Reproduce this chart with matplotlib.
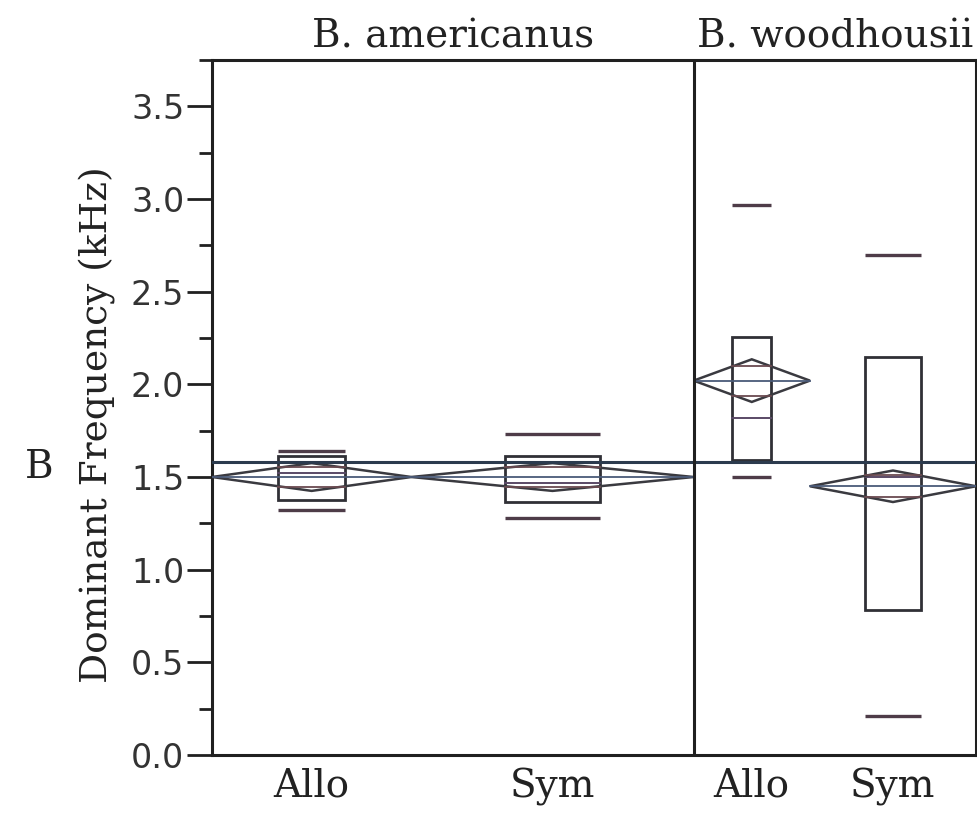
import numpy as np
import matplotlib
matplotlib.use("Agg")
import matplotlib.pyplot as plt
from matplotlib.patches import Polygon, Rectangle
from matplotlib.transforms import blended_transform_factory

# --- data ---------------------------------------------------------------
species = ["B. americanus", "B. woodhousii"]
groups = ["Allo", "Sym", "Allo", "Sym"]
group_species = [0, 0, 1, 1]
n_calls = [12, 17, 7, 10]                    # diamond widths follow group size
means = [1.50, 1.50, 2.02, 1.45]
ci_half = [0.075, 0.075, 0.115, 0.085]
q_low = [1.375, 1.365, 1.59, 0.78]
q_high = [1.615, 1.615, 2.255, 2.15]
medians = [1.52, 1.47, 1.82, 1.50]
tail_low = [1.32, 1.28, 1.50, 0.21]
tail_high = [1.64, 1.73, 2.97, 2.70]
grand_mean = 1.58

box_col = "#303036"
tail_col = "#4e3c48"
mean_col = "#2c3b4e"

fig = plt.figure(figsize=(9.78, 8.14), dpi=100)
ax = fig.add_axes([212 / 978, 59 / 814, 764 / 978, 695 / 814])

edges = np.concatenate([[0], np.cumsum(n_calls)])
centers = (edges[:-1] + edges[1:]) / 2

for i in range(len(groups)):
    x0, x1, xc = edges[i], edges[i + 1], centers[i]
    bw = n_calls[i] / 3.0
    # quantile box
    ax.add_patch(Rectangle((xc - bw / 2, q_low[i]), bw, q_high[i] - q_low[i],
                           fill=False, ec=box_col, lw=2.0, zorder=3))
    ax.plot([xc - bw / 2, xc + bw / 2], [medians[i]] * 2, color="#5a4a66", lw=1.4, zorder=3)
    # tail marks
    for v in (tail_low[i], tail_high[i]):
        ax.plot([xc - bw / 2, xc + bw / 2], [v, v], color=tail_col, lw=2.4,
                solid_capstyle="butt", zorder=3)
    # means diamond
    m, c = means[i], ci_half[i]
    ax.add_patch(Polygon([(x0, m), (xc, m + c), (x1, m), (xc, m - c)],
                         closed=True, fill=False, ec="#3a3a40", lw=1.8, zorder=4))
    ax.plot([x0, x1], [m, m], color="#4a5a78", lw=1.3, zorder=4)
    ov = c / np.sqrt(2)
    for v in (m + ov, m - ov):
        ax.plot([xc - bw / 2, xc + bw / 2], [v, v], color="#6a4a50", lw=1.3, zorder=4)

ax.axhline(grand_mean, color=mean_col, lw=2.2, zorder=5)
ax.axvline(edges[2], color="#202020", lw=2.2, zorder=6)

ax.set_xlim(edges[0], edges[-1])
ax.set_ylim(0, 3.75)
ax.set_yticks(np.arange(0, 3.51, 0.5))
ax.set_yticks(np.arange(0, 3.76, 0.25), minor=True)
ax.set_yticklabels([f"{v:.1f}" for v in np.arange(0, 3.51, 0.5)],
                   fontsize=24, color="#333333", family="DejaVu Sans")
ax.tick_params(axis="y", which="major", length=18, width=2.0, pad=2, color="#202020")
ax.tick_params(axis="y", which="minor", length=9.5, width=2.0, color="#202020")
ax.set_xticks(centers)
ax.set_xticklabels(groups, fontsize=28, family="DejaVu Serif", color="#222222")
ax.tick_params(axis="x", length=0, pad=9)
for s in ax.spines.values():
    s.set_linewidth(2.2)
    s.set_color("#202020")

trans = blended_transform_factory(ax.transData, fig.transFigure)
for k, name in enumerate(species):
    idx = [i for i in range(len(groups)) if group_species[i] == k]
    xm = (edges[idx[0]] + edges[idx[-1] + 1]) / 2
    ax.text(xm, 1 - 37 / 814, name, transform=trans, ha="center", va="center",
            fontsize=28, family="DejaVu Serif", color="#222222")

fig.text(98 / 978, 1 - 425 / 814, "Dominant Frequency (kHz)", rotation=90,
         ha="center", va="center", fontsize=27, family="DejaVu Serif", color="#222222")
fig.text(39 / 978, 1 - 467 / 814, "B", ha="center", va="center",
         fontsize=28, family="DejaVu Serif", color="#222222")

fig.savefig("out.png", dpi=100)
